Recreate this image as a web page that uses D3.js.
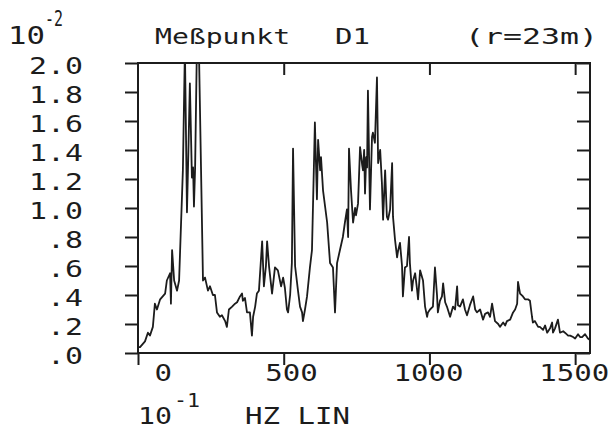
<!DOCTYPE html>
<html><head><meta charset="utf-8">
<script src="https://cdn.jsdelivr.net/npm/d3@7"></script>
<style>body{margin:0;background:#fff}svg{display:block}</style>
</head><body>
<svg id="c" width="612" height="437"></svg>
<script>
const freq = [0,7,24,34,41,51,58,65,76,93,99,110,113,117,124,134,141,154,161,168,172,178,185,189,192,196,202,209,223,230,240,247,257,264,271,281,288,299,305,312,323,333,340,350,357,360,367,374,384,391,395,402,408,415,426,432,439,443,450,460,470,480,491,498,504,511,515,522,528,532,539,549,556,563,566,573,580,590,597,601,607,614,618,625,628,635,649,659,669,676,683,693,703,710,717,721,724,731,738,745,748,755,762,769,772,776,779,783,786,789,796,803,806,813,820,824,831,837,841,848,854,858,865,872,875,882,889,892,899,906,909,916,923,930,933,940,944,951,958,961,968,978,985,992,995,1002,1012,1019,1026,1029,1036,1043,1047,1054,1060,1071,1081,1088,1095,1098,1105,1115,1122,1129,1139,1150,1157,1163,1174,1184,1191,1201,1208,1215,1225,1236,1242,1253,1260,1266,1277,1287,1294,1301,1304,1311,1321,1328,1338,1345,1352,1355,1362,1373,1379,1390,1397,1404,1414,1421,1424,1431,1441,1448,1459,1465,1476,1483,1493,1500,1510,1517,1524,1534,1544,1551];
const amp = [0.04,0.04,0.08,0.14,0.12,0.18,0.34,0.30,0.37,0.41,0.50,0.55,0.34,0.71,0.50,0.43,0.50,1.26,2.10,0.97,1.31,1.86,1.21,1.28,1.01,1.28,2.10,2.10,0.50,0.52,0.43,0.46,0.40,0.40,0.28,0.25,0.26,0.22,0.18,0.30,0.32,0.34,0.35,0.39,0.41,0.36,0.38,0.28,0.28,0.12,0.25,0.32,0.41,0.43,0.77,0.46,0.60,0.77,0.59,0.41,0.59,0.57,0.46,0.52,0.45,0.30,0.28,0.40,0.62,1.41,0.60,0.43,0.32,0.28,0.22,0.30,0.39,0.59,0.71,1.06,1.59,1.06,1.47,1.26,1.35,1.12,0.90,0.62,0.59,0.28,0.62,0.71,0.80,0.90,0.99,0.80,1.41,1.12,0.90,1.00,0.95,1.03,1.42,1.30,1.26,1.40,1.10,1.35,1.28,1.81,0.99,1.49,1.52,1.45,1.90,1.31,1.40,1.17,0.92,1.26,0.94,0.92,0.99,1.31,0.94,0.78,0.66,0.70,0.76,0.60,0.39,0.59,0.60,0.80,0.62,0.43,0.50,0.55,0.43,0.37,0.57,0.50,0.32,0.25,0.28,0.30,0.32,0.59,0.40,0.28,0.36,0.39,0.48,0.35,0.32,0.25,0.32,0.30,0.46,0.33,0.32,0.37,0.30,0.26,0.33,0.39,0.30,0.28,0.30,0.23,0.27,0.28,0.25,0.34,0.22,0.20,0.18,0.21,0.19,0.22,0.23,0.28,0.30,0.34,0.49,0.41,0.39,0.37,0.37,0.36,0.25,0.21,0.22,0.18,0.18,0.16,0.19,0.14,0.17,0.21,0.14,0.17,0.23,0.14,0.15,0.14,0.12,0.12,0.11,0.10,0.13,0.11,0.11,0.13,0.10,0.09];
const yTicks = [0,0.2,0.4,0.6,0.8,1.0,1.2,1.4,1.6,1.8,2.0];
const yTickLabels = [".0",".2",".4",".6",".8","1.0","1.2","1.4","1.6","1.8","2.0"];
const xTicks = [0,500,1000,1500];
const xTickLabels = ["0","500","1000","1500"];
const titleParts = ["Meßpunkt","D1","(r=23m)"];

const svg = d3.select("#c");
const ink = "#1c1c1c";
const font = "'DejaVu Sans Mono', monospace";
const ADV = 0.602; // monospace advance per em
const x = d3.scaleLinear().domain([0,1551]).range([138,590]);
const y = d3.scaleLinear().domain([0,2]).range([353,63]);

svg.append("rect").attr("width",612).attr("height",437).attr("fill","#fff");

// text helper: monospace text stretched horizontally to a given char advance
function txt(parent, s, px, py, size, adv, anchor){
  const sx = adv/(size*ADV);
  return parent.append("text")
    .attr("transform",`translate(${px},${py}) scale(${sx},1)`)
    .attr("font-family",font).attr("font-size",size).attr("fill",ink)
    .attr("text-anchor",anchor||"start").text(s);
}

svg.append("clipPath").attr("id","clip").append("rect")
  .attr("x",138).attr("y",63).attr("width",452).attr("height",290);

const line = d3.line().x((d,i)=>x(freq[i])).y(d=>y(d));
svg.append("path").datum(amp).attr("d",line).attr("fill","none")
  .attr("stroke",ink).attr("stroke-width",1.8).attr("stroke-linejoin","round")
  .attr("clip-path","url(#clip)");

svg.append("rect").attr("x",138).attr("y",63).attr("width",452).attr("height",290)
  .attr("fill","none").attr("stroke",ink).attr("stroke-width",2);

function styleAxis(g){
  g.select(".domain").remove();
  g.selectAll(".tick line").attr("stroke",ink).attr("stroke-width",2);
  g.selectAll(".tick text").remove();
}
const gl = svg.append("g").attr("transform","translate(138,0)")
  .call(d3.axisLeft(y).tickValues(yTicks).tickSize(13));
styleAxis(gl);
yTicks.forEach((v,i)=>txt(svg, yTickLabels[i], 83, y(v)+11, 23, 18, "end"));

const gb = svg.append("g").attr("transform","translate(0,353)")
  .call(d3.axisBottom(x).tickValues(xTicks).tickSize(12));
styleAxis(gb);
xTicks.forEach((v,i)=>txt(svg, xTickLabels[i], x(v)+34, 381, 23, 17.5, "end"));

const gt = svg.append("g").attr("transform","translate(0,63)")
  .call(d3.axisTop(x).tickValues(xTicks.slice(1)).tickSize(-12));
styleAxis(gt);
const gr = svg.append("g").attr("transform","translate(590,0)")
  .call(d3.axisRight(y).tickValues(yTicks).tickSize(-13));
styleAxis(gr);

// y exponent
txt(svg, "10", 8, 44, 24, 18.5);
txt(svg, "-2", 45, 26, 21, 9);

// title
const tx = [155,335,465], tadv = [16.9,17.5,19];
titleParts.forEach((s,i)=>txt(svg, s, tx[i], 44, 21, tadv[i]));

// x exponent & unit
txt(svg, "10", 138, 424, 23, 17);
txt(svg, "-1", 174, 407, 20, 13);
txt(svg, "HZ LIN", 245, 424, 23, 17.5);
</script>
</body></html>
